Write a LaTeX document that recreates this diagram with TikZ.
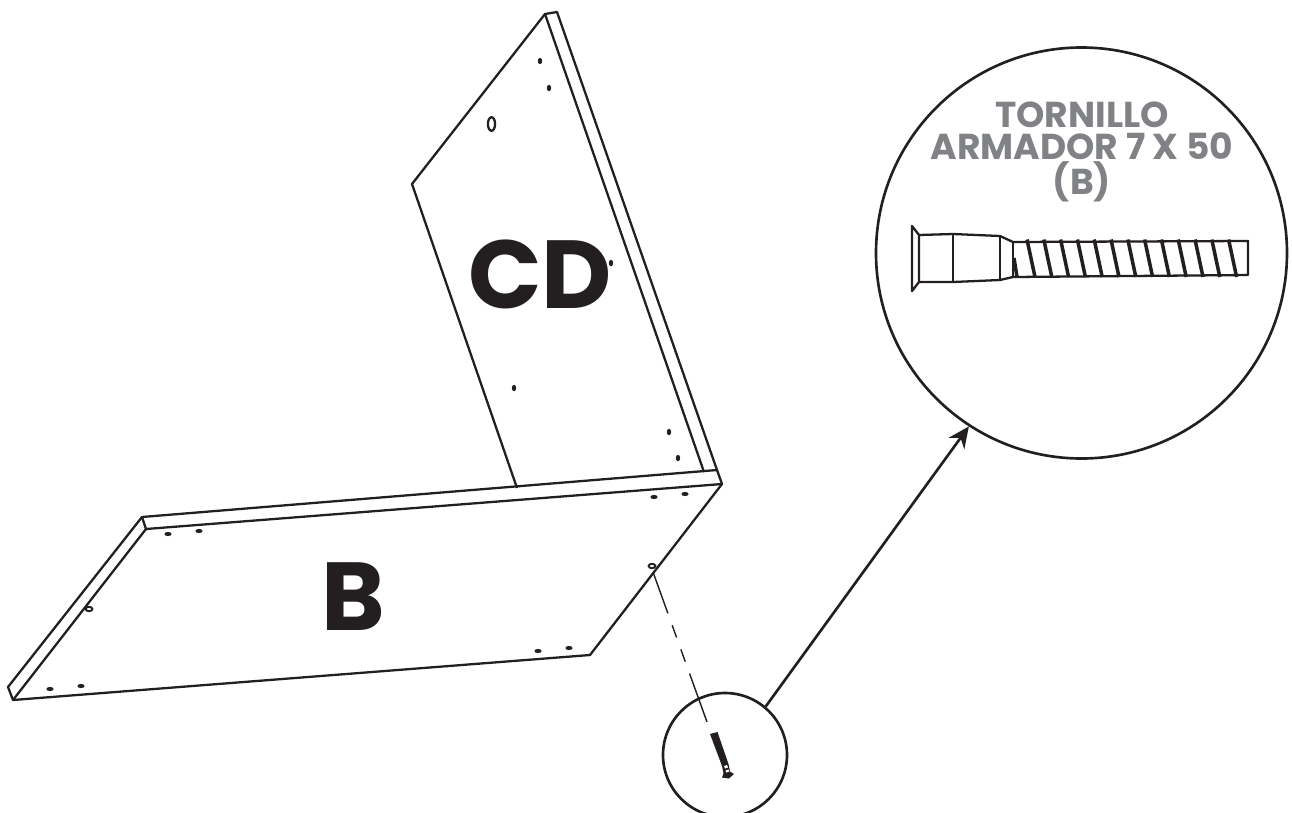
\documentclass[tikz,border=0pt]{standalone}
\usepackage{fontspec}
\setmainfont{Poppins}
\usetikzlibrary{arrows.meta}
\definecolor{inkblack}{HTML}{231F20}
\definecolor{labelgray}{HTML}{808285}
\tikzset{
  edge/.style={line width=1.3pt,line join=round,inkblack},
  hole/.style={fill=inkblack,draw=none},
  ring/.style={draw=inkblack,line width=1.1pt},
  lens/.style={circle,draw=inkblack,line width=1.5pt,inner sep=0pt},
  part/.style={font=\fontsize{55}{55}\selectfont\bfseries,text=inkblack},
  thread/.style={line width=2pt,inkblack},
}
\begin{document}
\begin{tikzpicture}[x=0.02cm,y=-0.02cm]
  \useasboundingbox (0,0) rectangle (1292,812);
  \clip (0,0) rectangle (1292,812);
  % panel CD
  \coordinate (cdtop) at (545,14);
  \coordinate (cdback) at (557,12);
  \coordinate (cdleft) at (412,184);
  \coordinate (cdfoot) at (517,488);
  \coordinate (cdin) at (704,472);
  \coordinate (cdout) at (717,470);
  \draw[edge] (cdfoot) -- (cdleft) -- (cdtop) -- (cdback) -- (cdout);
  \draw[edge] (cdtop) -- (cdin);
  % panel B
  \coordinate (bright) at (722,484);
  \coordinate (bfront) at (590,655);
  \coordinate (bleft) at (13,700);
  \coordinate (bedge) at (8,687);
  \coordinate (bback) at (142,517);
  \coordinate (binner) at (146,529);
  \draw[edge] (bback) -- (cdout) -- (bright) -- (bfront) -- (bleft) -- (bedge) -- cycle;
  \draw[edge] (bback) -- (binner) -- (bright);
  \draw[edge] (binner) -- (bleft);
  % holes
  \foreach \x/\y in {540/61,549/88,611/263,514/388,669/432,678/458}
    \fill[hole] (\x,\y) ellipse (2.2 and 3.2);
  \foreach \x/\y in {168/534,199/531,654/497,685/494,538/651,569/648,50/689,81/686}
    \fill[hole] (\x,\y) ellipse (3.6 and 2.1);
  \draw[edge] (491.5,124) ellipse (3.6 and 6.8);
  \draw[ring] (89,609) ellipse (3.4 and 2.2);
  \draw[ring] (652,566) ellipse (3.4 and 2.2);
  \node[part] (cd) at (540,274) {CD};
  \node[part] (b) at (353,597) {B};
  % lenses
  \node[lens,minimum size=124*0.02cm] (small) at (725,755) {};
  \node[lens,minimum size=411*0.02cm] (detail) at (1081.5,253) {};
  \draw[edge,line width=1.5pt,-{Stealth[length=12pt,width=11pt]}] (small.50) -- (detail.237);
  \node[font=\fontsize{20.5}{18.5}\selectfont\bfseries,text=labelgray,align=center] (title) at (1082,152) {TORNILLO\\ARMADOR 7 X 50\\(B)};
  % hole to screw
  \coordinate (screwtip) at (707,722);
  \coordinate (holept) at (653,572);
  \draw[inkblack,line width=.8pt,dash pattern=on 25pt off 7.2pt on 7.4pt off 7.2pt on 7.4pt off 7.2pt on 30pt] (holept) -- (screwtip);
  % small screw
  \fill[inkblack] (710,734) -- (717.5,732) -- (728.5,764) -- (730,771.5) -- (734,774) -- (729,778.5) -- (722,777.5) -- (723.5,773.5) -- (722,766) -- cycle;
  \fill[white] (724,766) -- (727,765) -- (728,767.5) -- (725,768.5) -- cycle;
  \fill[white] (725.5,770.5) -- (728.5,769.5) -- (729.3,771.5) -- (726.3,772.5) -- cycle;
  % big screw
  \draw[edge] (912,226) -- (912,291) -- (919,282) -- (919,235) -- cycle;
  \draw[edge] (919,235) -- (953,234) -- (1000,236) -- (1013,242) -- (1248,241) -- (1248,275) -- (1013,277) -- (1000,280) -- (953,282) -- (919,282);
  \draw[edge] (953,234) -- (953,282);
  \draw[edge] (1000,236) -- (1000,280);
  \draw[edge] (1013,242) -- (1013,277);
  \draw[thread] (1014,258) -- (1017,277);
  \foreach \i in {0,...,12}
    \draw[thread] ({1027+16.8*\i},239.5) -- ({1035+16.8*\i},277);
\end{tikzpicture}
\end{document}
